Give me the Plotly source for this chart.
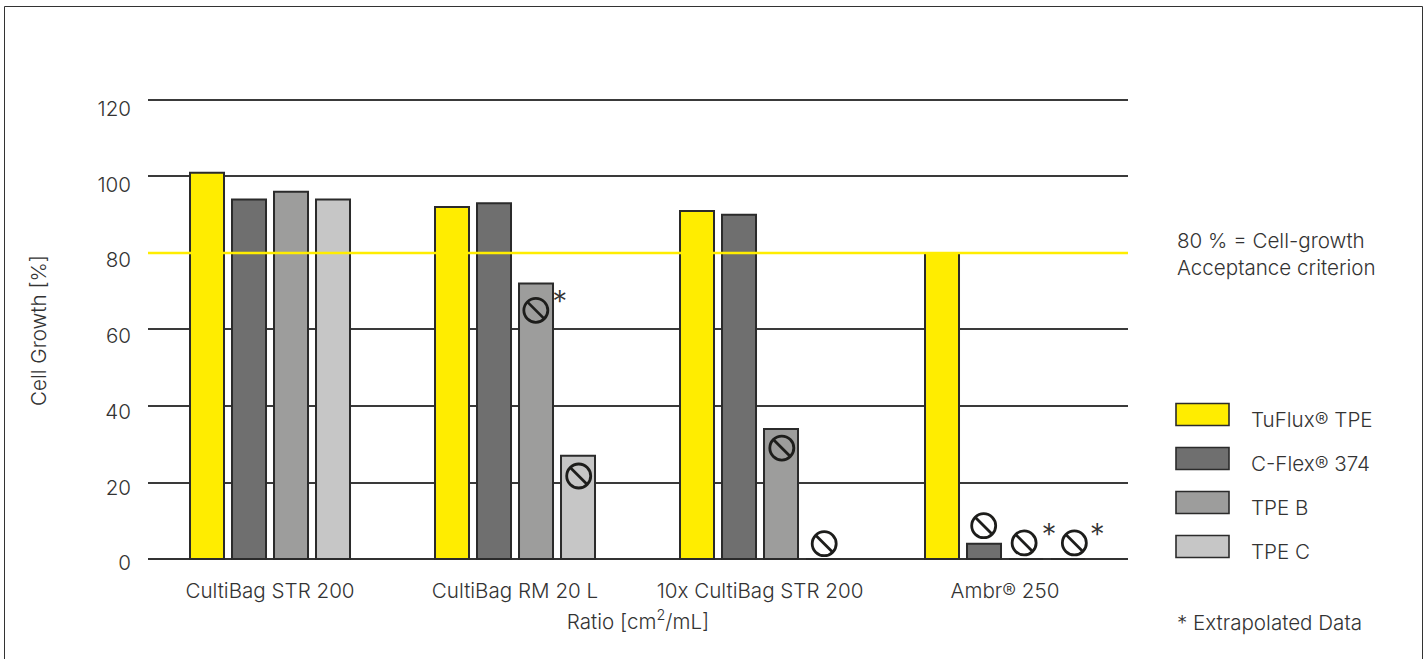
import plotly.graph_objects as go

# Chart data
categories = ["CultiBag STR 200", "CultiBag RM 20 L", "10x CultiBag STR 200", "Ambr® 250"]
series_names = ["TuFlux® TPE", "C-Flex® 374", "TPE B", "TPE C"]
tuflux = [101, 92, 91, 80]
cflex = [94, 93, 90, 4]
tpe_b = [96, 72, 34, 0]
tpe_c = [94, 27, 0, 0]
y_ticks = [0, 20, 40, 60, 80, 100, 120]

# Failed-growth symbols and extrapolation asterisks, in axis units
blocked_x = [1.085, 1.26, 2.089, 2.262, 2.913, 3.078, 3.283]
blocked_y = [65, 21.7, 29, 4, 8.7, 4.2, 4.2]
star_x = [1.183, 3.18, 3.377]
star_y = [66.5, 5.5, 5.5]

acceptance = 80

WIDTH, HEIGHT = 1426, 659
# The plot area runs a little past the outer gridlines so neither is dropped at the range edge
LEFT, RIGHT, TOP, BOTTOM = 148, 298, 98, 95
FONT = "Inter"
SIZE = 20.6
WEIGHT = 300
TEXT = "#333333"
EDGE = "#2b2b2b"
FILLS = ["#FFED00", "#6F6F6F", "#9D9D9C", "#C6C6C6"]
PITCH = 42 / 245
BAR_W = 34 / 245

LABEL_FONT = dict(family=FONT, size=SIZE, color=TEXT, weight=WEIGHT)


def px(x):
    return (x - LEFT) / (WIDTH - LEFT - RIGHT)


def py(y):
    return (HEIGHT - BOTTOM - y) / (HEIGHT - TOP - BOTTOM)


fig = go.Figure()

for k, (name, vals) in enumerate(zip(series_names, [tuflux, cflex, tpe_b, tpe_c])):
    fig.add_bar(
        x=[i + (k - 1.5) * PITCH for i in range(len(categories))],
        y=vals,
        name=name,
        width=BAR_W,
        marker=dict(color=FILLS[k], line=dict(color=EDGE, width=2)),
    )

# Prohibition symbol: open circle plus a diagonal stroke
fig.add_scatter(
    x=blocked_x, y=blocked_y, mode="markers", cliponaxis=False,
    marker=dict(symbol="circle-open", size=24, color="#1d1d1b", line=dict(color="#1d1d1b", width=2.8)),
)
fig.add_scatter(
    x=blocked_x, y=blocked_y, mode="markers", cliponaxis=False,
    marker=dict(symbol="line-nw", size=16, color="#1d1d1b", line=dict(color="#1d1d1b", width=2.8)),
)
fig.add_scatter(
    x=star_x, y=star_y, mode="text", text=["*"] * len(star_x), cliponaxis=False,
    textfont=dict(family=FONT, size=30, color=TEXT, weight=WEIGHT),
)

# Tick labels sit on a slightly different scale from the gridlines
fig.add_scatter(x=[0], y=[0], yaxis="y2", mode="markers", marker=dict(opacity=0), hoverinfo="skip")

shapes = [
    dict(type="line", xref="paper", yref="y", x0=0, x1=1, y0=acceptance, y1=acceptance,
         line=dict(color="#FFED00", width=2.5), layer="above"),
    # Outer frame, open at the bottom
    dict(type="path", xref="paper", yref="paper",
         path=f"M {px(4.5)} {py(670)} L {px(4.5)} {py(6.5)} L {px(1422.5)} {py(6.5)} L {px(1422.5)} {py(670)}",
         line=dict(color="#333333", width=1)),
]

annotations = []


def note(x, y, text):
    annotations.append(dict(
        xref="paper", yref="paper", x=px(x), y=py(y), text=text, showarrow=False,
        xanchor="left", yanchor="middle", align="left", font=LABEL_FONT,
    ))


for k, name in enumerate(series_names):
    top = 403.5 + 44 * k
    shapes.append(dict(
        type="rect", xref="paper", yref="paper",
        x0=px(1176), x1=px(1229), y0=py(top), y1=py(top + 22),
        fillcolor=FILLS[k], line=dict(color=EDGE, width=1.6),
    ))
    note(1249, top + 16, name)

note(1175, 240, "80 % = Cell-growth")
note(1175, 267, "Acceptance criterion")
note(1175, 622.5, "* Extrapolated Data")

annotations.append(dict(
    xref="paper", yref="paper", x=px(38), y=py(331), text="Cell Growth [%]", textangle=-90,
    xanchor="center", yanchor="middle", showarrow=False, font=LABEL_FONT,
))

fig.update_layout(
    width=WIDTH, height=HEIGHT, autosize=False,
    margin=dict(l=LEFT, r=RIGHT, t=TOP, b=BOTTOM, pad=0),
    paper_bgcolor="white", plot_bgcolor="white",
    showlegend=False, barmode="overlay",
    font=LABEL_FONT,
    shapes=shapes, annotations=annotations,
    xaxis=dict(
        range=[-0.498, 3.502], tickvals=list(range(len(categories))), ticktext=categories,
        showgrid=False, zeroline=False, showline=False, ticks="", ticklabelstandoff=12,
        tickfont=LABEL_FONT,
        title=dict(text="Ratio [cm<sup>2</sup>/mL]", standoff=12, font=LABEL_FONT),
    ),
    yaxis=dict(
        range=[-1.307, 120.52], tickvals=y_ticks, showticklabels=False,
        showgrid=True, gridcolor="#3a3a3a", gridwidth=1.5,
        zeroline=True, zerolinecolor="#333333", zerolinewidth=2.4,
        showline=False, ticks="",
    ),
    yaxis2=dict(
        overlaying="y", side="left", range=[-0.2, 122.8], tickvals=y_ticks,
        showgrid=False, zeroline=False, showline=False, ticks="", ticklabelstandoff=16,
        tickfont=LABEL_FONT,
    ),
)

fig.write_html("out.html")
